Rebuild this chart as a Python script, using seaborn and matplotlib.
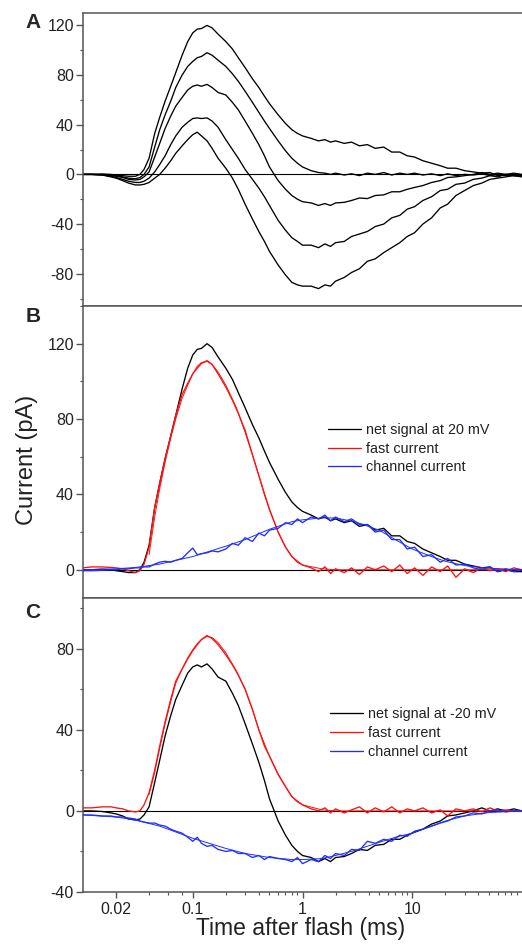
import matplotlib
matplotlib.use("Agg")
import matplotlib.pyplot as plt
import seaborn as sns
from matplotlib.ticker import MultipleLocator, NullFormatter

# ---------------- data (time in ms, current in pA) ----------------
T = [0.01, 0.012, 0.015, 0.018, 0.02,
     0.023, 0.026, 0.03, 0.033, 0.036,
     0.04, 0.045, 0.05, 0.056, 0.063,
     0.07, 0.08, 0.09, 0.1, 0.11,
     0.12, 0.135, 0.15, 0.17, 0.2,
     0.23, 0.26, 0.3, 0.35, 0.4,
     0.45, 0.5, 0.6, 0.7, 0.8,
     0.9, 1.0, 1.2, 1.4, 1.6,
     1.8, 2.0, 2.4, 2.8, 3.3,
     3.9, 4.6, 5.5, 6.5, 7.7,
     9, 10.5, 12.5, 15, 18,
     21, 25, 30, 36, 43,
     51, 60, 71, 84, 100]

# Panel A: five voltage traces (top trace = net signal at 20 mV, middle = -20 mV)
TRACE_1 = [0, 0, 0.3, 0, -0.5,
           -1, -1.5, -1.5, 0, 4,
           13, 33, 46, 59, 71,
           82, 96, 107, 114, 117,
           117.5, 120, 118, 113, 107,
           101, 94, 86, 77, 70,
           63, 57, 48, 41, 36,
           33, 31, 29, 27, 28,
           26, 27, 25, 26, 23,
           24, 21, 22, 18, 18,
           15, 14, 11, 9, 7,
           5, 5, 3, 2, 1,
           1.5, -1, 0, -1, -1]
TRACE_2 = [0, 0, 0, -0.5, -1,
           -2, -3, -3.5, -2.5, 0,
           6, 22, 36, 48, 59,
           70, 80, 87, 91, 94,
           95, 98, 96, 92, 87,
           81, 75, 67, 58, 50,
           43, 37, 27, 19, 13,
           9, 6, 3, 1.5, 1,
           0, 1, -0.5, 0.5, -1,
           1, 0, 1.5, -0.5, 1,
           0, 1, -0.5, 0.5, -1,
           0.5, -1, 0, -0.5, 0.5,
           -1, 0, -1, 0, -1]
TRACE_3 = [0, 0, -0.3, -1, -1.5,
           -2.5, -4, -4.5, -4, -2,
           2, 14, 25, 37, 47,
           55, 62, 68, 71, 72,
           71, 72.5, 70, 66, 64,
           58, 52, 43, 33, 24,
           15, 6, -5, -12, -17,
           -20, -22, -23, -25, -23.5,
           -25, -23, -22.5, -21, -19,
           -19.5, -17, -16.5, -14, -14,
           -12, -10.5, -9, -6.5, -5,
           -2.5, -2, -1, 0, 1.5,
           0, 1, 0, 1, 0]
TRACE_4 = [0, 0, -0.5, -1.5, -2.5,
           -4, -5.5, -6.5, -6.5, -5.5,
           -3, 2, 8, 15, 24,
           31, 38, 42, 45, 45.5,
           45, 45.5, 43, 38, 28,
           20, 13, 4, -4, -11,
           -18, -25, -37, -45, -51,
           -54, -57, -57, -59, -56,
           -58, -55, -54, -50, -48,
           -46, -42, -40, -35, -33,
           -28, -26, -21, -18, -13,
           -12, -8, -7, -4, -3,
           -1, -2, 0, -1, -1]
TRACE_5 = [0, 0, -0.5, -2, -3,
           -5, -7, -8.5, -8.5, -8,
           -6.5, -3, 0, 5, 11,
           17, 23, 28, 32, 34,
           31, 27, 21, 13, 5,
           -3, -12, -24, -36, -46,
           -54, -62, -73, -81, -87,
           -89, -90, -90, -92, -89,
           -90, -86, -83, -79, -76,
           -70, -68, -63, -59, -55,
           -50, -47, -40, -35, -27,
           -24, -17, -13, -9, -7,
           -4, -3, -2, -1, -2]

# Panel B (20 mV)
FAST_20 = [1, 1.5, 1.5, 1.2, 1,
           0.5, -0.5, -1.5, -0.5, 3,
           12, 33, 46, 59, 71,
           82, 93, 99, 104, 107,
           109.5, 111, 109, 104, 97,
           90, 83, 74, 61, 50,
           40, 32, 20, 12, 7,
           4, 2.5, 1, -1, 1.5,
           -2, 0.5, -1.5, 1, -2.5,
           1.5, 0, 2, -1, 2.5,
           -2, 1, -3, 1.5, -1,
           2, -4, 0.5, -1.5, 1,
           -0.5, 0.5, -1, 1, 0]
CHAN_20 = [-0.5, -0.5, -0.3, 0, 0,
           0.5, 0.5, 1, 1, 1.5,
           1.5, 3, 4, 4.5, 4,
           5, 6, 9, 11.5, 8,
           8.5, 9, 10, 9.5, 11,
           14, 13, 17, 15, 19.5,
           18, 21, 22, 25, 24,
           27, 25, 28, 27, 29,
           26, 28, 25.5, 27, 24,
           24, 20, 21, 16, 16,
           11, 12, 7, 8, 4,
           6, 2.5, 3, 1, 0,
           1.5, -1, 0.5, -1, 0]

# Panel C (-20 mV)
FAST_M20 = [1.5, 1.5, 2, 2, 1.5,
            1, 0, -0.5, 0, 3,
            9, 20, 32, 44, 55,
            64, 70, 75, 79, 82,
            84.5, 86.5, 85, 82, 77,
            72, 67, 60, 50, 40,
            32, 27, 18, 12, 7,
            4.5, 3, 1, 0, 1.5,
            -1, 1, -1, 0.5, 2,
            -1, 1.5, -0.5, 2, -1,
            1, 0, 1.5, -1, 0.5,
            -2.5, 1, 0, 1, -0.5,
            1.5, 0, 0.5, 0, 0]
CHAN_M20 = [-2, -2, -2.5, -2.5, -3,
            -3, -3.5, -4, -5, -5.5,
            -6, -6, -7, -7.5, -9,
            -10, -11, -13, -15, -13,
            -16, -17.5, -17, -19, -20,
            -19.5, -21, -21, -23, -22,
            -24, -22.5, -23.5, -24, -25,
            -23, -26, -24, -25, -22,
            -23.5, -21, -22, -19, -19.5,
            -15, -16, -14, -15, -12,
            -12.5, -10, -9, -7.5, -6,
            -5, -3, -2.5, -1, -1.5,
            0, 0.5, -0.5, 0, 0]

# fitted components
T_FAST_FIT = [0.04, 0.045, 0.05, 0.056, 0.063, 0.07, 0.08, 0.09, 0.1, 0.11,
              0.12, 0.135, 0.15, 0.17, 0.2, 0.25, 0.3, 0.35, 0.4, 0.5,
              0.6, 0.7, 0.8, 1.0, 1.5, 2, 5, 10, 30, 100]
FAST_20_FIT = [8, 28, 43, 57, 70, 80, 91, 98, 104, 108,
               110, 110.5, 109, 105, 98, 86, 73, 61, 50, 32,
               20, 12, 7, 2.5, 0.5, 0, 0, 0, 0, 0]
FAST_M20_FIT = [8, 19, 31, 43, 54, 63, 70, 75.5, 79.5, 82.5,
                84.5, 86, 85.5, 83, 78, 69, 60, 50, 40, 27,
                18, 12, 7, 3, 0.5, 0, 0, 0, 0, 0]
T_CHAN_FIT = [0.01, 0.02, 0.03, 0.05, 0.1, 0.2, 0.3, 0.5, 0.8, 1.0,
              1.5, 2, 3, 5, 7, 10, 15, 20, 30, 50, 100]
CHAN_20_FIT = [0, 0.5, 1.2, 3, 7, 12.5, 16, 21.5, 25.5, 26.5,
               27.5, 27.5, 25.5, 21, 16, 11, 7, 4.5, 2.2, 0.8, 0]
CHAN_M20_FIT = [-2, -3, -4.5, -7.5, -13.5, -18.5, -21, -23, -24, -24,
                -23.5, -22, -19.5, -15.5, -13, -11, -7.5, -5, -2.5, -0.8, 0]

X_MAJOR = [0.02, 0.1, 1, 10]
X_MAJOR_LABELS = ["0.02", "0.1", "1", "10"]
X_MINOR = [0.04, 0.06, 0.08, 0.2, 0.3, 0.4, 0.5, 0.6, 0.7, 0.8, 0.9,
           2, 3, 4, 5, 6, 7, 8, 9, 20, 30, 40, 50, 60, 70, 80, 90]

LEG_B = ["net signal at 20 mV", "fast current", "channel current"]
LEG_C = ["net signal at -20 mV", "fast current", "channel current"]

# ---------------- style ----------------
sns.set_theme(style="ticks")
plt.rcParams["font.family"] = ["Liberation Sans", "DejaVu Sans"]
plt.rcParams["axes.unicode_minus"] = False

RED = "#ff1010"
BLUE = "#1f2fff"
SPINE = "#555555"

fig = plt.figure(figsize=(5.22, 9.46), dpi=100)
W_PX, H_PX = 522, 946
L = 83 / W_PX
W = 1 - L


def fy(px):
    return 1 - px / H_PX


axA = fig.add_axes([L, fy(306), W, fy(13) - fy(306)])
axB = fig.add_axes([L, fy(598), W, fy(306) - fy(598)])
axC = fig.add_axes([L, fy(892), W, fy(598) - fy(892)])


def line(ax, x, y, color, lw=0.95, label=None, z=2):
    sns.lineplot(x=x, y=y, ax=ax, color=color, linewidth=lw, estimator=None,
                 sort=False, label=label, zorder=z)


for ax in (axA, axB, axC):
    ax.axhline(0, color="black", linewidth=0.8, zorder=1)

# Panel A
for tr in (TRACE_1, TRACE_2, TRACE_3, TRACE_4, TRACE_5):
    line(axA, T, tr, "black")

# Panel B
line(axB, T, TRACE_1, "black", label=LEG_B[0])
line(axB, T, FAST_20, RED, label=LEG_B[1], z=3)
line(axB, T_FAST_FIT, FAST_20_FIT, RED, lw=0.7, z=3)
line(axB, T, CHAN_20, BLUE, label=LEG_B[2], z=4)
line(axB, T_CHAN_FIT, CHAN_20_FIT, BLUE, lw=0.7, z=4)

# Panel C
line(axC, T, TRACE_3, "black", label=LEG_C[0])
line(axC, T, FAST_M20, RED, label=LEG_C[1], z=3)
line(axC, T_FAST_FIT, FAST_M20_FIT, RED, lw=0.7, z=3)
line(axC, T, CHAN_M20, BLUE, label=LEG_C[2], z=4)
line(axC, T_CHAN_FIT, CHAN_M20_FIT, BLUE, lw=0.7, z=4)

limits = {axA: (-106, 130), axB: (-15, 140), axC: (-40, 105)}
for ax in (axA, axB, axC):
    ax.set_xscale("log")
    ax.set_xlim(0.01, 100)
    ax.set_ylim(*limits[ax])
    ax.set_xlabel("")
    ax.set_ylabel("")
    ax.set_xticks(X_MAJOR)
    ax.set_xticks(X_MINOR, minor=True)
    ax.xaxis.set_minor_formatter(NullFormatter())
    if ax is axC:
        ax.set_xticklabels(X_MAJOR_LABELS)
    else:
        ax.set_xticklabels([])
    ax.yaxis.set_major_locator(MultipleLocator(40))
    ax.yaxis.set_minor_locator(MultipleLocator(20))
    ax.spines["right"].set_visible(False)
    for s in ("left", "bottom", "top"):
        ax.spines[s].set_color(SPINE)
        ax.spines[s].set_linewidth(1.1)
    ax.tick_params(axis="x", which="major", direction="out", length=4, width=1,
                   color=SPINE, labelsize=11.5, pad=3, labelcolor="#222222")
    ax.tick_params(axis="x", which="minor", direction="out", length=2.2,
                   width=0.8, color=SPINE)
    ax.tick_params(axis="y", which="major", direction="out", length=5, width=1,
                   color=SPINE, labelsize=11.5, pad=1.5, labelcolor="#222222")
    ax.tick_params(axis="y", which="minor", direction="out", length=2.5,
                   width=0.8, color=SPINE)
    ax.tick_params(top=False, right=False, which="both")

axA.set_yticks([-80, -40, 0, 40, 80, 120])
axB.set_yticks([0, 40, 80, 120])
axC.set_yticks([-40, 0, 40, 80])

for ax, anchor in ((axB, (0.558, 0.60)), (axC, (0.563, 0.628))):
    h, lab = ax.get_legend_handles_labels()
    leg = ax.legend(h, lab, loc="upper left", bbox_to_anchor=anchor,
                    frameon=False, fontsize=10.4, handlelength=2.3,
                    handletextpad=0.3, labelspacing=0.33, borderpad=0,
                    borderaxespad=0)
    for t in leg.get_texts():
        t.set_color("#222222")

# labels
for letter, ypx in (("A", 22), ("B", 316), ("C", 612)):
    fig.text(33 / W_PX, fy(ypx), letter, fontsize=15, fontweight="bold",
             ha="center", va="center")
fig.text(27 / W_PX, fy(460), "Current (pA)", fontsize=17, rotation=90,
         ha="center", va="center", color="#222222")
fig.text(301 / W_PX, fy(928), "Time after flash (ms)", fontsize=16.5,
         ha="center", va="center", color="#222222")

fig.savefig("out.png", dpi=100)
